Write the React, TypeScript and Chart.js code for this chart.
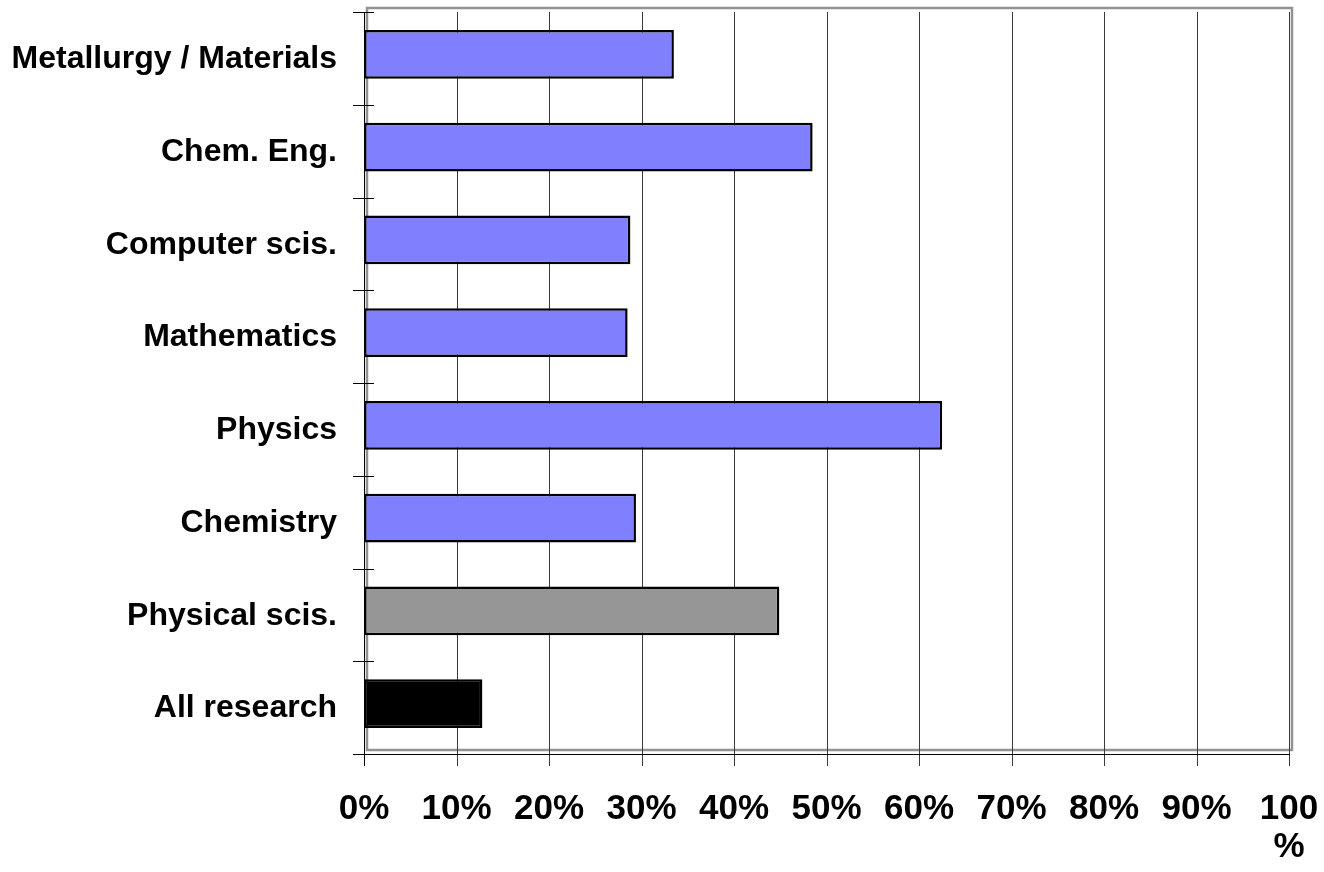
import React, { useEffect, useRef } from "react";
import { Chart, registerables } from "chart.js";

Chart.register(...registerables);

const categories = [
  "Metallurgy / Materials",
  "Chem. Eng.",
  "Computer scis.",
  "Mathematics",
  "Physics",
  "Chemistry",
  "Physical scis.",
  "All research",
];
const values = [33.5, 48.5, 28.8, 28.5, 62.5, 29.4, 44.9, 12.8];
const barColors = [
  "#8080FF",
  "#8080FF",
  "#8080FF",
  "#8080FF",
  "#8080FF",
  "#8080FF",
  "#969696",
  "#000000",
];
const xTicks = [0, 10, 20, 30, 40, 50, 60, 70, 80, 90, 100];

const FONT = "'Liberation Sans', Arial, Helvetica, sans-serif";

const decor = {
  id: "decor",
  beforeDatasetsDraw(chart: any) {
    const { ctx, chartArea } = chart;
    const xs = chart.scales.x;
    const { left, right, top, bottom } = chartArea;
    ctx.save();
    ctx.strokeStyle = "#929292";
    ctx.lineWidth = 2.5;
    ctx.strokeRect(left + 3, top, right + 3 - (left + 3), bottom - top);
    ctx.strokeStyle = "#3a3a3a";
    ctx.lineWidth = 1;
    xTicks.forEach((v) => {
      const x = Math.round(xs.getPixelForValue(v)) + 0.5;
      ctx.beginPath();
      ctx.moveTo(x, top + 4);
      ctx.lineTo(x, bottom + 16);
      ctx.stroke();
    });
    ctx.restore();
  },
  afterDatasetsDraw(chart: any) {
    const { ctx, chartArea } = chart;
    const xs = chart.scales.x;
    const ys = chart.scales.y;
    const { left, top, bottom } = chartArea;
    ctx.save();
    ctx.strokeStyle = "#000";
    ctx.lineWidth = 1;
    const x0 = Math.round(xs.getPixelForValue(0)) + 0.5;
    ctx.beginPath();
    ctx.moveTo(x0, top + 4);
    ctx.lineTo(x0, bottom + 16);
    ctx.stroke();
    const yA = Math.round(bottom + 4) + 0.5;
    ctx.beginPath();
    ctx.moveTo(left - 11, yA);
    ctx.lineTo(Math.round(xs.getPixelForValue(100)) + 1, yA);
    ctx.stroke();
    for (let k = 0; k <= categories.length; k++) {
      const y = Math.round(ys.getPixelForValue(k - 0.5) + 4) + 0.5;
      ctx.beginPath();
      ctx.moveTo(left - 11, y);
      ctx.lineTo(left + 10, y);
      ctx.stroke();
    }
    ctx.restore();
  },
};

export default function App() {
  const ref = useRef<HTMLCanvasElement | null>(null);

  useEffect(() => {
    document.body.style.margin = "0";
    if (!ref.current) return;
    const chart = new Chart(ref.current, {
      type: "bar",
      data: {
        labels: categories,
        datasets: [
          {
            data: values,
            backgroundColor: barColors,
            borderColor: "#000000",
            borderWidth: 2.5,
            barPercentage: 0.525,
            categoryPercentage: 1,
            borderSkipped: false,
          },
        ],
      },
      options: {
        indexAxis: "y",
        animation: false,
        responsive: true,
        maintainAspectRatio: false,
        layout: { padding: { top: 8, right: 35, left: 0, bottom: 0 } },
        plugins: {
          legend: { display: false },
          tooltip: { enabled: false },
          title: { display: false },
        },
        scales: {
          x: {
            type: "linear",
            min: 0,
            max: 100,
            grid: { display: false, drawTicks: false },
            border: { display: false },
            ticks: {
              stepSize: 10,
              padding: 40,
              color: "#000",
              maxRotation: 0,
              autoSkip: false,
              font: { family: FONT, size: 35, weight: "bold", lineHeight: 1.1 },
              callback: (v: any) => (Number(v) === 100 ? ["100", "%"] : v + "%"),
            },
            afterFit: (s: any) => {
              s.height = 122;
              s.paddingLeft = 0;
              s.paddingRight = 0;
              s.paddingTop = 0;
              s.paddingBottom = 0;
            },
          },
          y: {
            type: "category",
            offset: true,
            grid: { display: false, drawTicks: false },
            border: { display: false },
            ticks: {
              padding: 27,
              labelOffset: 5,
              color: "#000",
              autoSkip: false,
              font: { family: FONT, size: 32, weight: "bold" },
            },
            afterFit: (s: any) => {
              s.width = 364;
              s.paddingLeft = 0;
              s.paddingRight = 0;
              s.paddingTop = 0;
              s.paddingBottom = 0;
            },
          },
        },
      },
      plugins: [decor],
    });
    return () => chart.destroy();
  }, []);

  return (
    <div style={{ width: 1324, height: 872, position: "relative", background: "#fff" }}>
      <canvas ref={ref} />
    </div>
  );
}
